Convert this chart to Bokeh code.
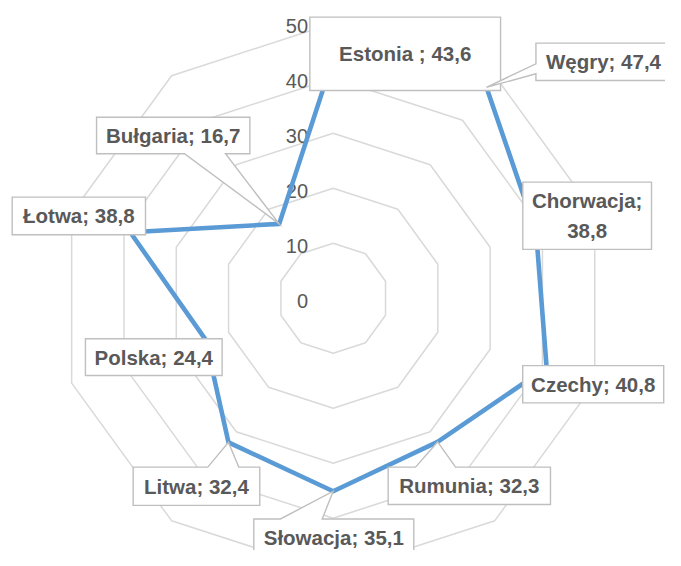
import math
from bokeh.plotting import figure
from bokeh.models import Range1d
from bokeh.core.properties import value
from bokeh.embed import file_html
from bokeh.resources import INLINE

# ---------------- data ----------------
countries = ["Estonia", "Węgry", "Chorwacja", "Czechy", "Rumunia",
             "Słowacja", "Litwa", "Polska", "Łotwa", "Bułgaria"]
values = [43.6, 47.4, 38.8, 40.8, 32.3, 35.1, 32.4, 24.4, 38.8, 16.7]
ring_values = [10, 20, 30, 40, 50]
tick_values = [0, 10, 20, 30, 40, 50]
tick_labels = ["0", "10", "20", "30", "40", "50"]

# separator between name and value in each data label
label_seps = [" ; ", "; ", ";\n", "; ", "; ", "; ", "; ", "; ", "; ", "; "]

# ---------------- layout / style ----------------
S = 5.5                 # pixels per value unit
W, H = 665, 550
CX, CY = 332.7, 297.7   # centre of radar in figure pixels (from top-left)

# box-centre offset from point (px, y down), box size (px), wedge spec
LAYOUT = {
    "Estonia":   dict(off=(72.0, -4.6),   size=(190.7, 73.3), wedge=None),
    "Węgry":     dict(off=(117.0, -25.5), size=(135.0, 37.3), wedge=("left", 2.0, 12.0)),
    "Chorwacja": dict(off=(51.0, -16.5),  size=(128.7, 67.3), wedge=None),
    "Czechy":    dict(off=(46.6, 16.7),   size=(141.0, 37.3), wedge=None),
    "Rumunia":   dict(off=(31.7, 43.9),   size=(162.3, 37.3), wedge=("top", -53.8, -13.8)),
    "Słowacja":  dict(off=(0.6, 46.0),    size=(160.0, 36.6), wedge=("top", -53.3, -11.6)),
    "Litwa":     dict(off=(-32.0, 43.9),  size=(126.6, 38.3), wedge=("top", 11.3, 42.3)),
    "Polska":    dict(off=(-51.8, 17.5),  size=(136.7, 36.7), wedge=None),
    "Łotwa":     dict(off=(-51.4, -16.3), size=(133.3, 37.6), wedge=None),
    "Bułgaria":  dict(off=(-106.0, -88.4), size=(153.3, 36.6), wedge=("bottom", 11.3, 52.3)),
}

TEXT_COLOR = "#595959"
GRID_COLOR = "#D9D9D9"
LINE_COLOR = "#5B9BD5"
BOX_LINE = "#BFBFBF"

n = len(countries)
angles = [2 * math.pi * i / n for i in range(n)]


def polar(r, a):
    return r * math.sin(a), r * math.cos(a)


p = figure(width=W, height=H, output_backend="svg", toolbar_location=None,
           x_axis_type=None, y_axis_type=None, min_border=0,
           x_range=Range1d(-CX / S, (W - CX) / S),
           y_range=Range1d(-(H - CY) / S, CY / S))
p.grid.visible = False
p.outline_line_color = None
p.background_fill_color = "white"
p.border_fill_color = "white"

# grid rings
ring_xs, ring_ys = [], []
for r in ring_values:
    pts = [polar(r, a) for a in angles] + [polar(r, angles[0])]
    ring_xs.append([q[0] for q in pts])
    ring_ys.append([q[1] for q in pts])
p.multi_line(ring_xs, ring_ys, line_color=GRID_COLOR, line_width=1.5)

# radial axis tick labels
p.text(x=[-25.2 / S] * len(tick_values), y=[t - 2.3 / S for t in tick_values],
       text=tick_labels, text_align="right", text_baseline="middle",
       text_font=value("Liberation Sans"), text_font_size="20px",
       text_color=TEXT_COLOR)

# data line
pts = [polar(v, a) for v, a in zip(values, angles)]
xs = [q[0] for q in pts] + [pts[0][0]]
ys = [q[1] for q in pts] + [pts[0][1]]
p.line(xs, ys, line_color=LINE_COLOR, line_width=4.6, line_join="round")

# callout boxes
box_xs, box_ys, tx, ty, texts = [], [], [], [], []
for name, v, (px, py), sep in zip(countries, values, pts, label_seps):
    L = LAYOUT[name]
    ox, oy = L["off"]
    hw, hh = L["size"][0] / 2, L["size"][1] / 2
    tipx, tipy = -ox, -oy
    wd = L["wedge"]
    poly = [(-hw, -hh)]
    if wd and wd[0] == "top":
        poly += [(wd[1], -hh), (tipx, tipy), (wd[2], -hh)]
    poly.append((hw, -hh))
    poly.append((hw, hh))
    if wd and wd[0] == "bottom":
        poly += [(wd[2], hh), (tipx, tipy), (wd[1], hh)]
    poly.append((-hw, hh))
    if wd and wd[0] == "left":
        poly += [(-hw, wd[2]), (tipx, tipy), (-hw, wd[1])]
    bx = px + ox / S
    by = py - oy / S
    box_xs.append([bx + a / S for a, b in poly])
    box_ys.append([by - b / S for a, b in poly])
    tx.append(bx)
    ty.append(by)
    texts.append(name + sep + ("%.1f" % v).replace(".", ","))

p.patches(box_xs, box_ys, fill_color="white", line_color=BOX_LINE,
          line_width=1.4, line_join="miter")
p.text(x=tx, y=ty, text=texts, text_align="center", text_baseline="middle",
       text_font=value("Liberation Sans"), text_font_style="bold",
       text_font_size="20.5px", text_color=TEXT_COLOR, text_line_height=1.3)

open("out.html", "w").write(file_html(p, INLINE))
